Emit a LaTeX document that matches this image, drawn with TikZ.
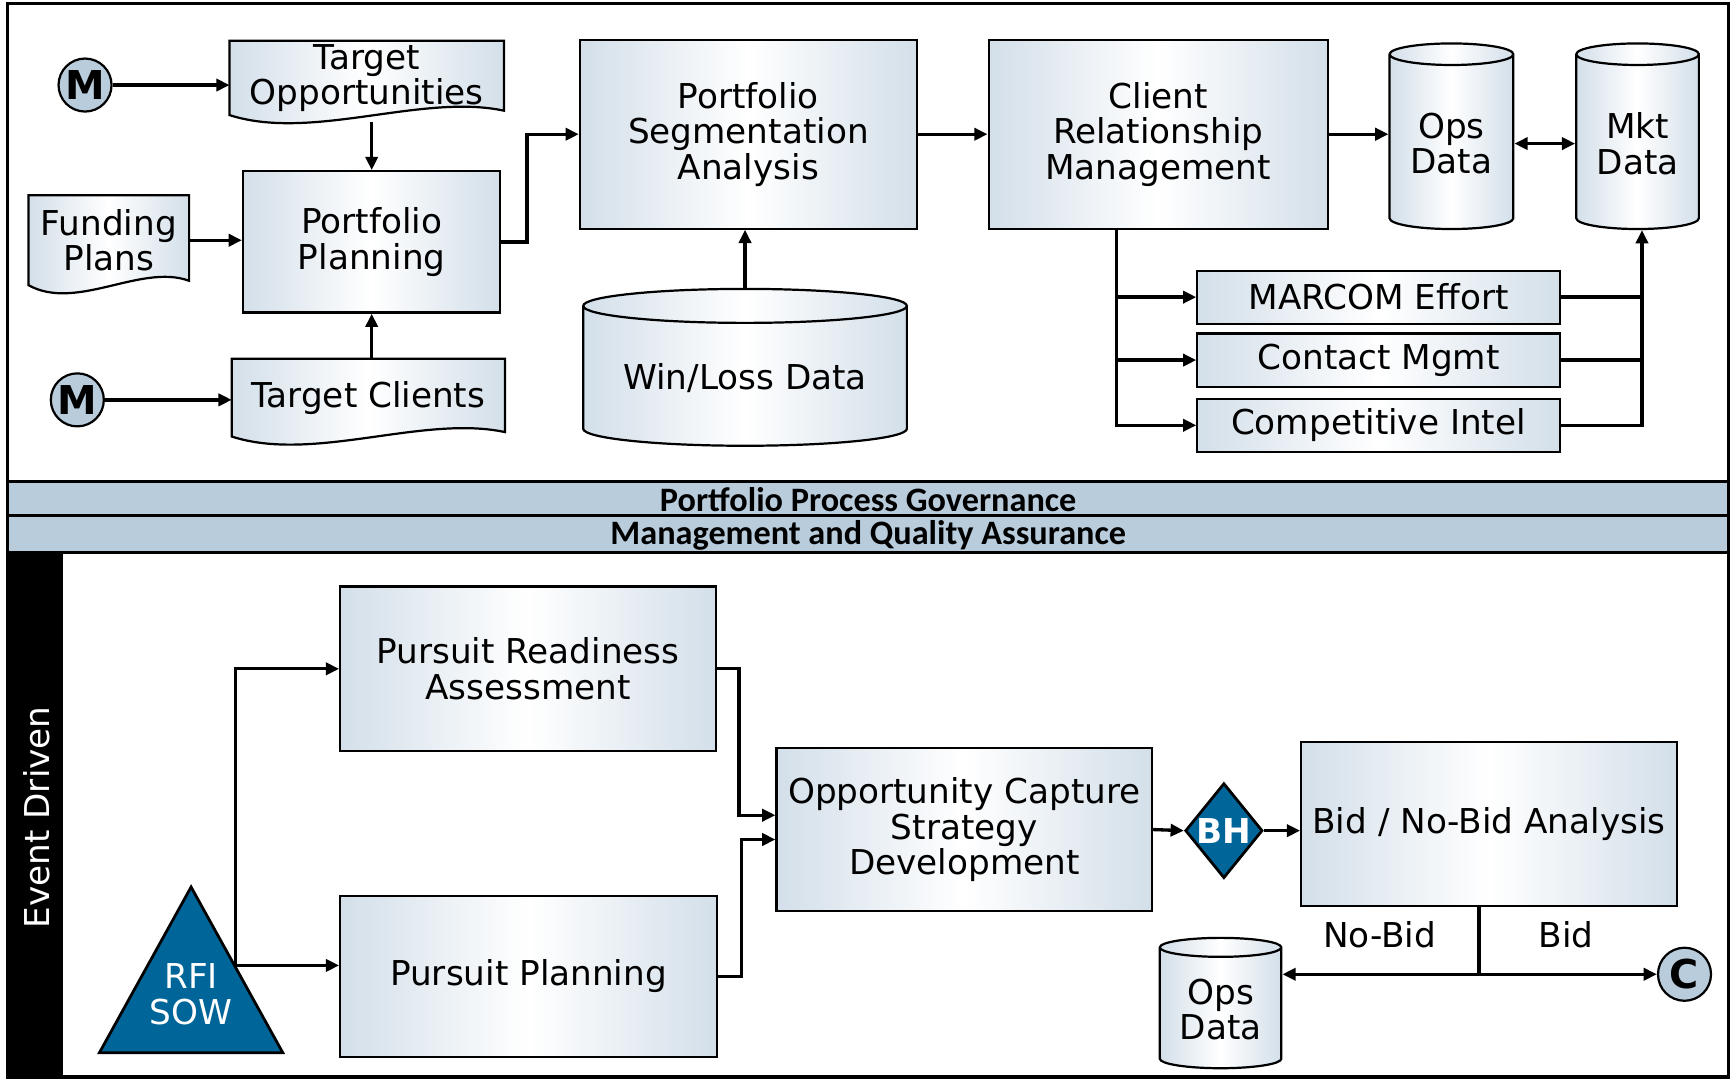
\documentclass[tikz,border=0pt]{standalone}
\usepackage{fontspec}
\setmainfont{DejaVu Sans}
\newfontfamily\bandfont{Carlito}
\usetikzlibrary{arrows.meta,shapes.geometric,calc,backgrounds}

\definecolor{boxblue}{RGB}{211,223,233}
\definecolor{bandblue}{RGB}{185,204,220}
\definecolor{rfiblue}{RGB}{0,101,153}

% wavy-bottom document outline behind a named node
\newcommand{\docoutline}[1]{%
  \draw[line width=2pt, left color=boxblue, right color=boxblue, middle color=white]
    (#1.north west) -- (#1.north east) -- ($(#1.south east)+(0,-4)$)
    .. controls ($(#1.south east)!0.3!(#1.south west)+(0,-20)$)
    and ($(#1.south west)!0.3!(#1.south east)+(0,24)$) .. (#1.south west) -- cycle;}

\begin{document}
\begin{tikzpicture}[x=1pt, y=-1pt, >={Triangle[length=12pt,width=11pt]},
  every node/.style={font=\fontsize{31}{32}\selectfont, align=center},
  procbox/.style={draw, line width=2pt, left color=boxblue, right color=boxblue,
    middle color=white, inner sep=4pt},
  docbox/.style={inner sep=1pt},
  datastore/.style={cylinder, shape border rotate=90, draw, line width=2pt,
    left color=boxblue, right color=boxblue, middle color=white, inner sep=2pt},
  connector/.style={circle, draw, line width=2pt, fill=bandblue, minimum size=48pt,
    inner sep=0pt, font=\bfseries\fontsize{36}{36}\selectfont},
  flow/.style={line width=3pt},
  band/.style={draw, line width=2.5pt, fill=bandblue},
  bandtext/.style={font=\bandfont\bfseries\fontsize{31}{32}\selectfont}]

\useasboundingbox (0,0) rectangle (1568,977);
\draw[line width=3pt] (7,3) rectangle (1565,975);

% upper part: portfolio flow
\node[connector] (m1) at (77,77) {M};
\node[connector] (m2) at (70,362) {M};
\node[docbox, minimum width=248pt, minimum height=67pt] (topp) at (332,70.5) {Target\\Opportunities};
\node[docbox, minimum width=145pt, minimum height=81pt] (fund) at (98.5,217.5) {Funding\\Plans};
\node[docbox, minimum width=247pt, minimum height=70pt] (tcli) at (333.5,360) {Target Clients};
\begin{scope}[on background layer]
  \docoutline{topp}
  \docoutline{fund}
  \docoutline{tcli}
\end{scope}

\node[procbox, minimum width=233pt, minimum height=128pt] (pplan) at (336.5,219) {Portfolio\\Planning};
\node[procbox, minimum width=305pt, minimum height=171pt] (psa) at (677.5,121.5) {Portfolio\\Segmentation\\Analysis};
\node[procbox, minimum width=307pt, minimum height=171pt] (crm) at (1048.5,121.5) {Client\\Relationship\\Management};
\node[datastore, aspect=0.137, minimum width=293pt, minimum height=142pt] (wl) at (674.5,342) {Win/Loss Data};
\node[datastore, aspect=0.25, minimum width=112pt, minimum height=168pt] (ops1) at (1314,130) {Ops\\Data};
\node[datastore, aspect=0.25, minimum width=111pt, minimum height=168pt] (mkt) at (1482.5,130) {Mkt\\Data};
\node[procbox, minimum width=328pt, minimum height=48pt] (marcom) at (1248,269) {MARCOM Effort};
\node[procbox, minimum width=328pt, minimum height=48pt] (contact) at (1248,326) {Contact Mgmt};
\node[procbox, minimum width=328pt, minimum height=48pt] (compint) at (1248,385) {Competitive Intel};

\draw[flow, ->] (m1) -- (m1 -| topp.west);
\draw[flow, ->] ([yshift=-6pt]topp.south -| pplan.north) -- (pplan.north);
\draw[flow, ->] (fund.east) -- (fund.east -| pplan.west);
\draw[flow, ->] (tcli.north -| pplan.south) -- (pplan.south);
\draw[flow, ->] (m2) -- (m2 -| tcli.west);
\draw[flow, ->] (pplan.east) -- ++(23,0) |- (psa.west);
\draw[flow, ->] (wl.north) -- (wl.north |- psa.south);
\draw[flow, ->] (psa) -- (crm);
\draw[flow, ->] (crm.east) -- (crm.east -| ops1.west);
\draw[flow, <->] (ops1.east) -- (ops1.east -| mkt.west);
\coordinate (crmtap) at ([xshift=-38pt]crm.south);
\foreach \n in {marcom, contact, compint}
  \draw[flow, ->] (crmtap) |- (\n.west);
\coordinate (mkttap) at ([xshift=4pt]mkt.south);
\draw[flow, ->] (compint.east) -| (mkttap);
\foreach \n in {marcom, contact}
  \draw[flow] (\n.east) -- (\n.east -| mkttap);

% governance bands
\draw[band] (7,436) rectangle (1565,467);
\draw[band] (7,467) rectangle (1565,500);
\node[bandtext] (gov) at (786,452) {Portfolio Process Governance};
\node[bandtext] (mqa) at (786,485) {Management and Quality Assurance};

% lower part: event driven pursuit
\fill (7,500) rectangle (57,976);
\node[rotate=90, text=white] (evt) at (33,740) {Event Driven};

\filldraw[fill=rfiblue, line width=2.5pt] (173,803) -- (256,953) -- (90,953) -- cycle;
\node[text=white] (rfi) at (173,900) {RFI\\SOW};
\coordinate (rfiout) at (213,874);

\node[procbox, minimum width=340pt, minimum height=149pt] (pra) at (478,605.5) {Pursuit Readiness\\Assessment};
\node[procbox, minimum width=341pt, minimum height=146pt] (ppl) at (478.5,884) {Pursuit Planning};
\node[procbox, minimum width=340pt, minimum height=148pt] (ocsd) at (873,751) {Opportunity Capture\\Strategy\\Development};
\node[diamond, draw, line width=2.5pt, fill=rfiblue, text=white, aspect=0.81, inner sep=0pt,
  minimum width=70pt, minimum height=86pt, font=\bfseries\fontsize{31}{32}\selectfont] (bh) at (1108,752) {BH};
\node[procbox, minimum width=340pt, minimum height=148pt] (bid) at (1348,746) {Bid / No-Bid Analysis};
\node[datastore, aspect=0.22, minimum width=110pt, minimum height=118pt] (ops2) at (1105,914) {Ops\\Data};
\node[connector] (cnode) at (1525,882) {C};
\node (nobid) at (1249,846) {No-Bid};
\node (bidlbl) at (1418,846) {Bid};

\draw[flow, ->] (rfiout) -- (rfiout -| ppl.west);
\draw[flow, ->] (rfiout) |- (pra.west);
\draw[flow, ->] (pra.east) -- ++(20,0) |- ([yshift=13pt]ocsd.west);
\draw[flow, ->] (ppl.east) -- ++(21,0) |- ([yshift=-9pt]ocsd.west);
\draw[flow, ->] (ocsd.east) -- (bh.west);
\draw[flow, ->] (bh.east) -- (bh.east -| bid.west);
\coordinate (bidtap) at ([xshift=-9pt]bid.south);
\draw[flow] (bidtap) -- (bidtap |- cnode);
\draw[flow, <->] (ops2.east |- cnode) -- (cnode);
\end{tikzpicture}
\end{document}
